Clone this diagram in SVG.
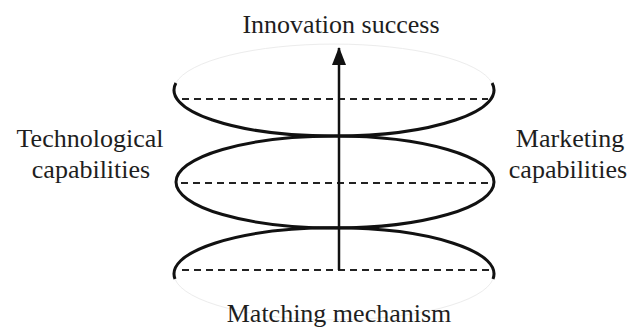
<svg xmlns="http://www.w3.org/2000/svg" width="640" height="327" viewBox="0 0 640 327">
  <defs>
    <style>
      .ring { fill: none; stroke: #111; stroke-width: 3; }
      .ghost { fill: none; stroke: #ececec; stroke-width: 1; }
      .dash { stroke: #222; stroke-width: 2; stroke-dasharray: 7 5; fill: none; }
    </style>
    <marker id="ah" markerWidth="18" markerHeight="14" refX="17" refY="7" orient="auto" markerUnits="userSpaceOnUse" viewBox="0 0 18 14">
      <path d="M0,0 L18,7 L0,14 Z" fill="#111"/>
    </marker>
  </defs>
  <rect width="640" height="327" fill="#ffffff"/>

  <g id="top-ellipse">
    <path class="ghost" d="M175.9,83 A160,46 0 0 1 492.1,83"/>
    <path class="ring" d="M175.9,83 A160,46 0 1 0 492.1,83"/>
    <line class="dash" x1="182" y1="99" x2="488" y2="99"/>
  </g>

  <g id="middle-ellipse">
    <ellipse class="ring" cx="335" cy="182" rx="159" ry="46"/>
    <line class="dash" x1="181" y1="183" x2="490" y2="183"/>
  </g>

  <g id="bottom-ellipse">
    <path class="ghost" d="M175,279 A160,46 0 0 0 493,279"/>
    <path class="ring" d="M175,279 A160,46 0 1 1 493,279"/>
    <line class="dash" x1="182" y1="270" x2="490" y2="270"/>
  </g>

  <g id="connectors">
    <line x1="339" y1="270" x2="339" y2="48" stroke="#111" stroke-width="2.5" marker-end="url(#ah)"/>
  </g>

  <g id="innovation-success">
    <text x="341" y="33" font-family="'Liberation Serif', serif" font-size="26" fill="#1e1e1e" text-anchor="middle">Innovation success</text>
  </g>
  <g id="technological-capabilities">
    <text x="90" y="147" font-family="'Liberation Serif', serif" font-size="26" fill="#1e1e1e" text-anchor="middle">Technological</text>
    <text x="91" y="178" font-family="'Liberation Serif', serif" font-size="26" fill="#1e1e1e" text-anchor="middle">capabilities</text>
  </g>
  <g id="marketing-capabilities">
    <text x="570" y="147" font-family="'Liberation Serif', serif" font-size="26" fill="#1e1e1e" text-anchor="middle">Marketing</text>
    <text x="568" y="178" font-family="'Liberation Serif', serif" font-size="26" fill="#1e1e1e" text-anchor="middle">capabilities</text>
  </g>
  <g id="matching-mechanism">
    <text x="339" y="322" font-family="'Liberation Serif', serif" font-size="26" fill="#1e1e1e" text-anchor="middle">Matching mechanism</text>
  </g>
</svg>
